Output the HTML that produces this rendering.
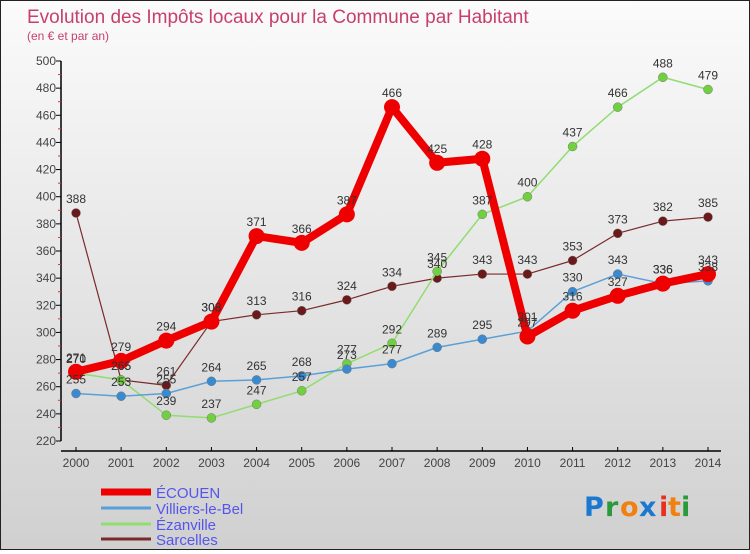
<!DOCTYPE html>
<html><head><meta charset="utf-8">
<style>
html,body{margin:0;padding:0}
body{width:750px;height:550px;overflow:hidden;font-family:"Liberation Sans",sans-serif}
#wrap{position:relative;width:748px;height:548px;border:1px solid #222;background:linear-gradient(#fbfbfb,#d0d0d0)}
</style></head><body>
<div id="wrap">
<svg id="chart" width="748" height="548" xmlns="http://www.w3.org/2000/svg">
<text x="26" y="22" font-size="19" fill="#c8406a">Evolution des Impôts locaux pour la Commune par Habitant</text>
<text x="26" y="39" font-size="12" fill="#c8406a">(en € et par an)</text>
<g id="axes"></g>
<g id="series"></g>
<g id="labels"></g>
<g id="legend"></g>
<g font-size="27" font-weight="bold" font-family="'DejaVu Sans',sans-serif">
<text x="583" y="515" fill="#1a78d0">P</text><text x="604" y="515" fill="#2a9a3a">r</text><text x="619" y="515" fill="#f08010">o</text><text x="638" y="515" fill="#1a78d0">x</text><text x="658" y="515" fill="#e83020">i</text><text x="667" y="515" fill="#f08010">t</text><text x="680" y="515" fill="#2a9a3a">i</text>
</g>
</svg>
</div>
<script>
const years=[2000,2001,2002,2003,2004,2005,2006,2007,2008,2009,2010,2011,2012,2013,2014];
const ecouen=[271,279,294,308,371,366,387,466,425,428,297,316,327,336,343];
const villiers=[255,253,255,264,265,268,273,277,289,295,301,330,343,336,338];
const ezanville=[270,265,239,237,247,257,277,292,345,387,400,437,466,488,479];
const sarcelles=[388,265,261,308,313,316,324,334,340,343,343,353,373,382,385];
const yTicks=[220,240,260,280,300,320,340,360,380,400,420,440,460,480,500];
const seriesNames=["ÉCOUEN","Villiers-le-Bel","Ézanville","Sarcelles"];
const NS="http://www.w3.org/2000/svg";
const X=i=>75+i*(707-75)/(years.length-1);
const Y=v=>440-(v-220)*380/280;
function mk(tag,attrs,parent){const e=document.createElementNS(NS,tag);for(const k in attrs)e.setAttribute(k,attrs[k]);parent.appendChild(e);return e;}
const axes=document.getElementById('axes');
let yl=mk('line',{x1:60,y1:60,x2:60,y2:440,stroke:'#000','stroke-width':1.5},axes);


yTicks.forEach(t=>{
  mk('line',{x1:55,x2:60,y1:Y(t),y2:Y(t),stroke:'#000'},axes);
  const tx=mk('text',{x:55,y:Y(t)+4,'font-size':12,fill:'#444','text-anchor':'end'},axes);
  tx.textContent=t;
  
  
  if(t<500) mk('line',{x1:57,x2:60,y1:Y(t+10),y2:Y(t+10),stroke:'#e03030'},axes);
});
let xl=mk('line',{x1:60,y1:450,x2:720,y2:450,stroke:'#000','stroke-width':1.5},axes);


years.forEach((y,i)=>{
  mk('line',{x1:X(i),x2:X(i),y1:446,y2:450,stroke:'#000'},axes);
  const tx=mk('text',{x:X(i),y:466,'font-size':12,fill:'#444','text-anchor':'middle'},axes);
  tx.textContent=y;
  
  
});
const cfg=[
 {d:ecouen,c:'#ee0000',w:8,r:8,fc:'#ee0000',n:'ecouen'},
 {d:villiers,c:'#5aa0d8',w:1.5,r:4.5,fc:'#3a8ad0',n:'villiers-le-bel'},
 {d:ezanville,c:'#90dd70',w:1.5,r:4.5,fc:'#70d040',n:'ezanville'},
 {d:sarcelles,c:'#7a2a2a',w:1.2,r:4.5,fc:'#6a1a1a',n:'sarcelles'}];
const sg=document.getElementById('series'),lg=document.getElementById('labels');
[3,2,1,0].forEach(k=>{
  const s=cfg[k];
  const g=mk('g',{},sg);
  
  
  const p=mk('polyline',{points:s.d.map((v,i)=>X(i)+','+Y(v)).join(' '),fill:'none',stroke:s.c,'stroke-width':s.w,'stroke-linejoin':'round'},g);
  
  
  s.d.forEach((v,i)=>{
    const c=mk('circle',{cx:X(i),cy:Y(v),r:s.r,fill:s.fc,stroke:k==0?'#e00':'#777','stroke-width':k==0?0:0.5},g);
    
    
    const t=mk('text',{x:X(i),y:Y(v)-10,'font-size':12,fill:'#333','text-anchor':'middle'},lg);
    t.textContent=v;
    
    
  });
});
const leg=document.getElementById('legend');
const ly=[491,507,523,538];
cfg.forEach((s,k)=>{
  const l=mk('line',{x1:100,x2:150,y1:ly[k],y2:ly[k],stroke:k==0?'#ee0000':s.c,'stroke-width':k==0?7:3},leg);
  
  
  const t=mk('text',{x:155,y:ly[k]+6,'font-size':15,fill:'#5555ee'},leg);
  t.textContent=seriesNames[k];
  
  
});
</script>
</body></html>
